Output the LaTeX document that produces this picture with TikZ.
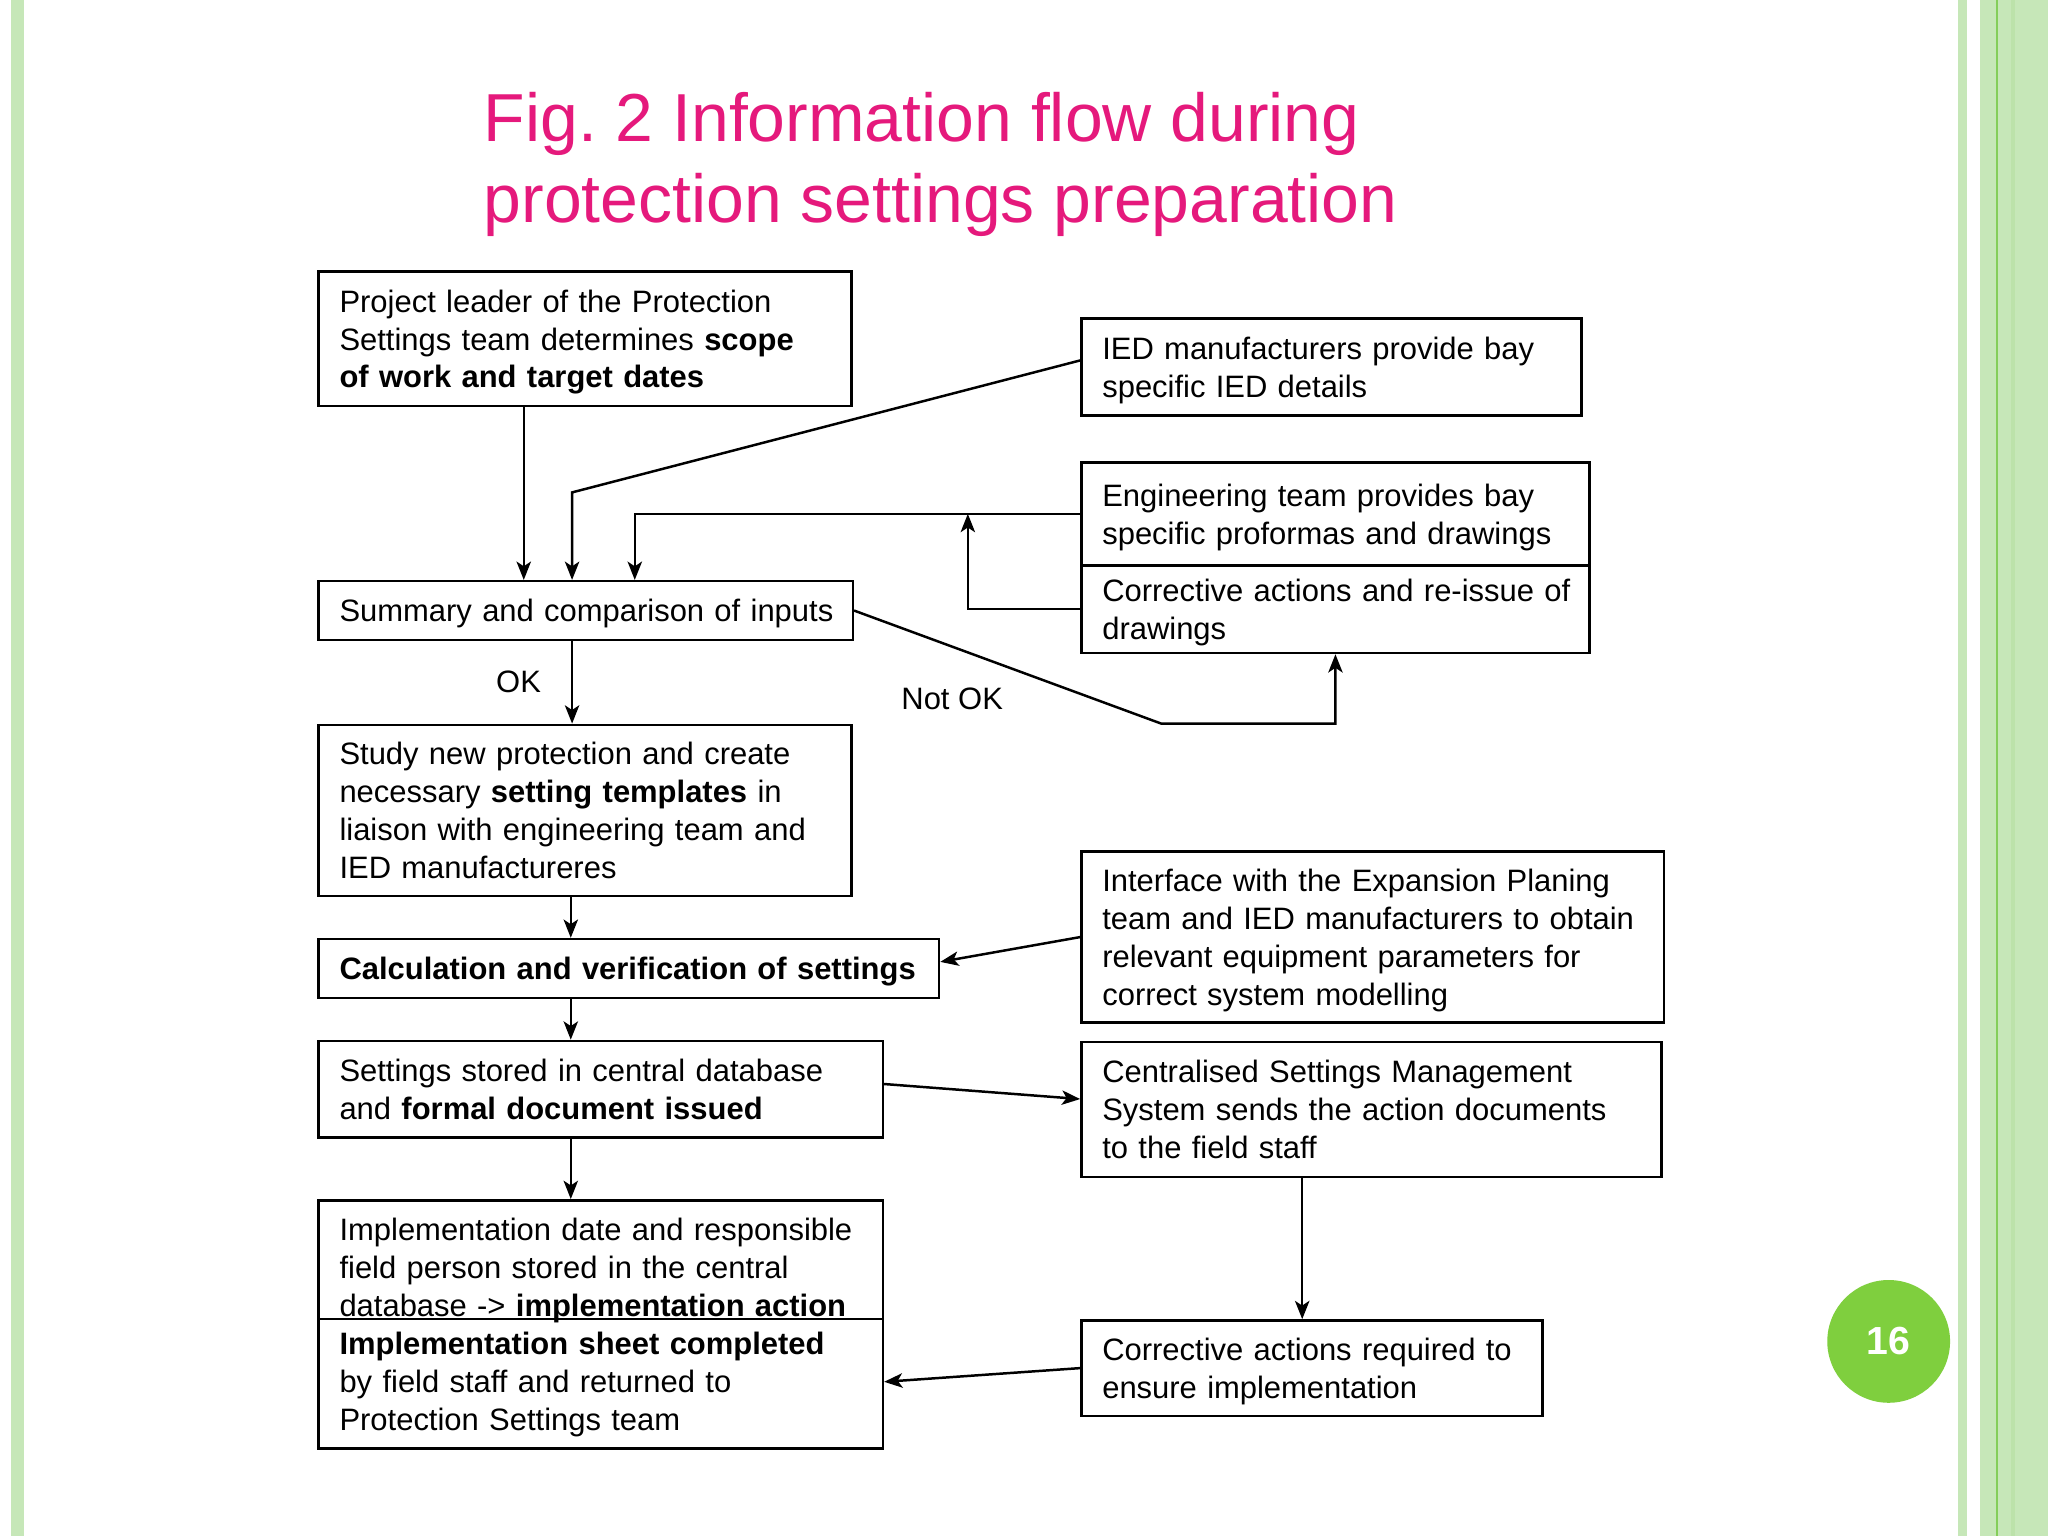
\documentclass[tikz,border=0pt]{standalone}
\usepackage{fontspec}
\setmainfont{Liberation Sans}
\usetikzlibrary{arrows.meta,calc}
\definecolor{titlepink}{HTML}{E5197C}
\definecolor{stripe}{HTML}{C6E7B8}
\definecolor{stripedark}{HTML}{84CE5A}
\definecolor{stripemid}{HTML}{BCE2AA}
\definecolor{badge}{HTML}{7FCF3E}
\begin{document}
\begin{tikzpicture}[x=0.5pt,y=-0.5pt,
  box/.style={draw, line width=0.95pt, anchor=north west, align=left, inner xsep=8pt, inner ysep=0pt,
    execute at begin node={\rule{0pt}{11.6pt}}, execute at end node={\rule[-3pt]{0pt}{0pt}},
    font=\fontsize{11.85}{14.5}\selectfont},
  arr/.style={line width=0.95pt, -{Stealth[length=7pt,width=5.5pt,inset=1.8pt]}},
  lbl/.style={font=\fontsize{11.85}{14.5}\selectfont, inner sep=0pt}]
\useasboundingbox (0,0) rectangle (1568,1176);
\fill[white] (0,0) rectangle (1568,1176);
% stripes
\fill[stripe] (8.4,0) rectangle (18.4,1176);
\fill[stripe] (1499,0) rectangle (1506,1176);
\fill[stripe] (1516,0) rectangle (1568,1176);
\fill[stripedark] (1528,0) rectangle (1530,1176);
\fill[stripemid] (1540,0) rectangle (1543,1176);
% title
\node[anchor=north west, inner sep=0pt, align=left, text=titlepink, font=\fontsize{26}{31}\selectfont] (title) at (370,70)
  {Fig.\ 2 Information flow during\\protection settings preparation};
% left column
\node[box, text width=188pt, minimum height=51.5pt] (pl) at (243,207)
  {\mbox{Project leader of the Protection}\\\mbox{Settings team determines \textbf{scope}}\\\mbox{\textbf{of work and target dates}}};
\node[box, text width=188.5pt, minimum height=22.5pt] (sum) at (243,444)
  {\mbox{Summary and comparison of inputs}};
\node[box, text width=188pt, minimum height=65.5pt] (study) at (243,554)
  {\mbox{Study new protection and create}\\\mbox{necessary \textbf{setting templates} in}\\\mbox{liaison with engineering team and}\\\mbox{IED manufactureres}};
\node[box, text width=221.5pt, minimum height=22.5pt] (calc) at (243,718)
  {\mbox{\textbf{Calculation and verification of settings}}};
\node[box, text width=200pt, minimum height=37pt] (set) at (243,796)
  {\mbox{Settings stored in central database}\\\mbox{and \textbf{formal document issued}}};
\node[box, text width=200pt, minimum height=95pt] (impl) at (243,918)
  {\mbox{Implementation date and responsible}\\\mbox{field person stored in the central}\\\mbox{database -> \textbf{implementation action}}\\\mbox{\textbf{Implementation sheet completed}}\\\mbox{by field staff and returned to}\\\mbox{Protection Settings team}};
\draw[line width=0.95pt] ($(impl.north west)+(0,92)$) -- ($(impl.north east)+(0,92)$);
% right column
\node[box, text width=175.5pt, minimum height=37pt] (ied) at (827,243)
  {\mbox{IED manufacturers provide bay}\\\mbox{specific IED details}};
\node[box, text width=178.5pt, minimum height=39.5pt] (eng) at (827,353)
  {\mbox{Engineering team provides bay}\\\mbox{specific proformas and drawings}};
\node[box, text width=178.5pt, minimum height=33.5pt] (cor) at (827,432)
  {\mbox{Corrective actions and re-issue of}\\\mbox{drawings}};
\node[box, text width=207pt, minimum height=65.5pt] (intf) at (827,651)
  {\mbox{Interface with the Expansion Planing}\\\mbox{team and IED manufacturers to obtain}\\\mbox{relevant equipment parameters for}\\\mbox{correct system modelling}};
\node[box, text width=206pt, minimum height=51.5pt] (cent) at (827,797)
  {\mbox{Centralised Settings Management}\\\mbox{System sends the action documents}\\\mbox{to the field staff}};
\node[box, text width=160.5pt, minimum height=36.5pt] (corr) at (827,1010)
  {\mbox{Corrective actions required to}\\\mbox{ensure implementation}};
% labels
\node[lbl] (ok) at (397,522) {OK};
\node[lbl] (notok) at (729,535) {Not OK};
% page badge
\node[circle, fill=badge, minimum size=47pt, inner sep=0pt, text=white, font=\bfseries\fontsize{15}{18}\selectfont] (pg) at (1446,1027) {16};
% connectors
\draw[arr] ($(pl.south west)+(158,0)$) -- ($(sum.north west)+(158,0)$);
\draw[arr] ($(ied.west)+(0,-5)$) -- ($(sum.north west)+(195,-67)$) -- ($(sum.north west)+(195,0)$);
\draw[arr] (eng.west) -| ($(sum.north west)+(243,0)$);
\draw[arr] (cor.west) -| ($(eng.west)+(-86,0)$);
\draw[arr] (sum.east) -- ++(235,86.5) -| (cor.south);
\draw[arr] ($(sum.south west)+(195,0)$) -- ($(study.north west)+(195,0)$);
\draw[arr] ($(study.south west)+(194,0)$) -- ($(calc.north west)+(194,0)$);
\draw[arr] (intf.west) -- ($(calc.east)+(0,-5)$);
\draw[arr] ($(calc.south west)+(194,0)$) -- ($(set.north west)+(194,0)$);
\draw[arr] ($(set.east)+(0,-4)$) -- ($(cent.west)+(0,-8)$);
\draw[arr] ($(set.south west)+(194,0)$) -- ($(impl.north west)+(194,0)$);
\draw[arr] ($(cent.south west)+(170,0)$) -- ($(corr.north west)+(170,0)$);
\draw[arr] (corr.west) -- ($(impl.east)+(0,44)$);
\end{tikzpicture}
\end{document}
